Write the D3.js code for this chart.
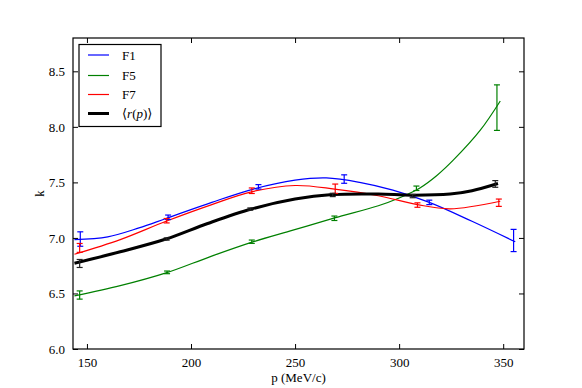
<!DOCTYPE html>
<html><head><meta charset="utf-8">
<script src="https://cdn.jsdelivr.net/npm/d3@7"></script>
<style>body{margin:0;background:#fff}svg{display:block}svg text{font-family:'Liberation Serif','Times New Roman','DejaVu Serif',serif !important}</style>
</head><body><svg id="c" width="582" height="388"></svg>
<script>
// measured points with error bars
const seriesNames = ["F1","F5","F7","⟨r(p)⟩"];
const colors = ["#0000ff","#008000","#ff0000","#000000"];
const ptX_F1 = [146.8, 189, 232.4, 273.6, 314.5, 355];
const ptY_F1 = [6.99, 7.186, 7.46, 7.53, 7.32, 6.977];
const err_F1 = [0.065, 0.02, 0.02, 0.038, 0.02, 0.10];
const ptX_F5 = [146.5, 188.5, 229.2, 268.9, 308.3, 347.0];
const ptY_F5 = [6.486, 6.69, 6.966, 7.177, 7.447, 8.173];
const err_F5 = [0.037, 0.012, 0.015, 0.02, 0.02, 0.205];
const ptX_F7 = [146.5, 188.3, 229.2, 269.3, 308.8, 347.9];
const ptY_F7 = [6.91, 7.155, 7.425, 7.443, 7.296, 7.317];
const err_F7 = [0.04, 0.02, 0.025, 0.042, 0.02, 0.033];
const ptX_R = [146.5, 188.3, 228.5, 268.1, 306.5, 346.2];
const ptY_R = [6.77, 6.99, 7.26, 7.387, 7.377, 7.486];
const err_R = [0.036, 0.01, 0.01, 0.015, 0.015, 0.03];
// fitted curves
const fitX_F1 = [144, 160, 175, 188, 210, 230, 250, 265, 281, 297, 314.5, 335, 355.8];
const fitY_F1 = [6.985, 7.01, 7.09, 7.175, 7.32, 7.44, 7.52, 7.54, 7.50, 7.43, 7.32, 7.15, 6.965];
const fitX_F5 = [144, 166, 188, 209, 229, 249, 269, 290, 300, 310, 318, 326, 339, 348.6];
const fitY_F5 = [6.478, 6.57, 6.685, 6.83, 6.96, 7.07, 7.18, 7.29, 7.36, 7.45, 7.56, 7.70, 7.97, 8.233];
const fitX_F7 = [144, 166, 188, 210, 229, 250, 269, 290, 308.8, 324.5, 348.6];
const fitY_F7 = [6.853, 6.985, 7.15, 7.30, 7.415, 7.472, 7.44, 7.38, 7.30, 7.262, 7.33];
const fitX_R = [144, 166, 188, 208, 229, 250, 268, 290, 306, 324.5, 335, 347.5];
const fitY_R = [6.772, 6.875, 6.99, 7.13, 7.26, 7.35, 7.39, 7.395, 7.385, 7.395, 7.425, 7.49];
const xTicks = [150, 200, 250, 300, 350];
const yTicks = [6.0, 6.5, 7.0, 7.5, 8.0, 8.5];

const FONT = "'Liberation Serif','Times New Roman','DejaVu Serif',serif";
const svg = d3.select("#c");
const L = 73, R = 524, T = 38, B = 349;
const x = d3.scaleLinear().domain([143.3, 360]).range([L, R]);
const y = d3.scaleLinear().domain([6.0, 8.8]).range([B, T]);

const pts = [[ptX_F1,ptY_F1,err_F1],[ptX_F5,ptY_F5,err_F5],[ptX_F7,ptY_F7,err_F7],[ptX_R,ptY_R,err_R]];
const fits = [[fitX_F1,fitY_F1],[fitX_F5,fitY_F5],[fitX_F7,fitY_F7],[fitX_R,fitY_R]];

const g = svg.append("g");
const line = d3.line().x(d=>x(d[0])).y(d=>y(d[1])).curve(d3.curveCatmullRom.alpha(0.5));
fits.forEach((f,i)=>{
  const data = f[0].map((v,j)=>[v,f[1][j]]);
  g.append("path").attr("d", line(data)).attr("fill","none")
   .attr("stroke", colors[i]).attr("stroke-width", i===3?3:1.2);
});
pts.forEach((p,i)=>{
  const c = i===3 ? "#222" : colors[i];
  p[0].forEach((xv,j)=>{
    const cx = x(xv), y1 = y(p[1][j]-p[2][j]), y2 = y(p[1][j]+p[2][j]);
    g.append("line").attr("x1",cx).attr("x2",cx).attr("y1",y1).attr("y2",y2).attr("stroke",c).attr("stroke-width",1.2);
    [y1,y2].forEach(yy=>g.append("line").attr("x1",cx-3).attr("x2",cx+3).attr("y1",yy).attr("y2",yy).attr("stroke",c).attr("stroke-width",1.2));
  });
});

// axes frame and inward ticks
svg.append("rect").attr("x",L).attr("y",T).attr("width",R-L).attr("height",B-T).attr("fill","none").attr("stroke","#000").attr("stroke-width",1.2);
const ax = svg.append("g").attr("transform",`translate(0,${B})`).call(d3.axisBottom(x).tickValues(xTicks).tickSize(-5).tickPadding(9).tickFormat(d3.format("d")));
const axT = svg.append("g").attr("transform",`translate(0,${T})`).call(d3.axisTop(x).tickValues(xTicks).tickSize(-5).tickFormat(""));
const ay = svg.append("g").attr("transform",`translate(${L},0)`).call(d3.axisLeft(y).tickValues(yTicks).tickSize(-5).tickPadding(8).tickFormat(d3.format(".1f")));
const ayR = svg.append("g").attr("transform",`translate(${R},0)`).call(d3.axisRight(y).tickValues(yTicks).tickSize(-5).tickFormat(""));
[ax,axT,ay,ayR].forEach(a=>{a.attr("font-family",FONT).attr("font-size",13); a.select(".domain").remove(); a.selectAll("text").attr("font-size",13).attr("fill","#000").attr("font-family",FONT); a.selectAll("line").attr("stroke","#000");});

svg.append("text").attr("x",(L+R)/2).attr("y",382).attr("text-anchor","middle").attr("font-size",13).attr("font-family",FONT).text("p (MeV/c)");
svg.append("text").attr("transform",`translate(44,${(T+B)/2}) rotate(-90)`).attr("text-anchor","middle").attr("font-size",13).attr("font-family",FONT).text("k");

// legend
const lg = svg.append("g");
lg.append("rect").attr("x",79).attr("y",44.5).attr("width",82).attr("height",82).attr("fill","#fff").attr("stroke","#000").attr("stroke-width",1.2);
const rows = [55, 75.5, 94.5, 113.5];
seriesNames.forEach((n,i)=>{
  lg.append("line").attr("x1",88).attr("x2",109).attr("y1",rows[i]).attr("y2",rows[i]).attr("stroke",colors[i]).attr("stroke-width",i===3?3:1.2);
  const t = lg.append("text").attr("x",122).attr("y",rows[i]+4.5).attr("font-size",13).attr("font-family",FONT);
  if(i<3) t.text(n);
  else { t.append("tspan").text("⟨"); t.append("tspan").attr("font-style","italic").text("r"); t.append("tspan").text("("); t.append("tspan").attr("font-style","italic").text("p"); t.append("tspan").text(")⟩"); }
});
</script></body></html>
